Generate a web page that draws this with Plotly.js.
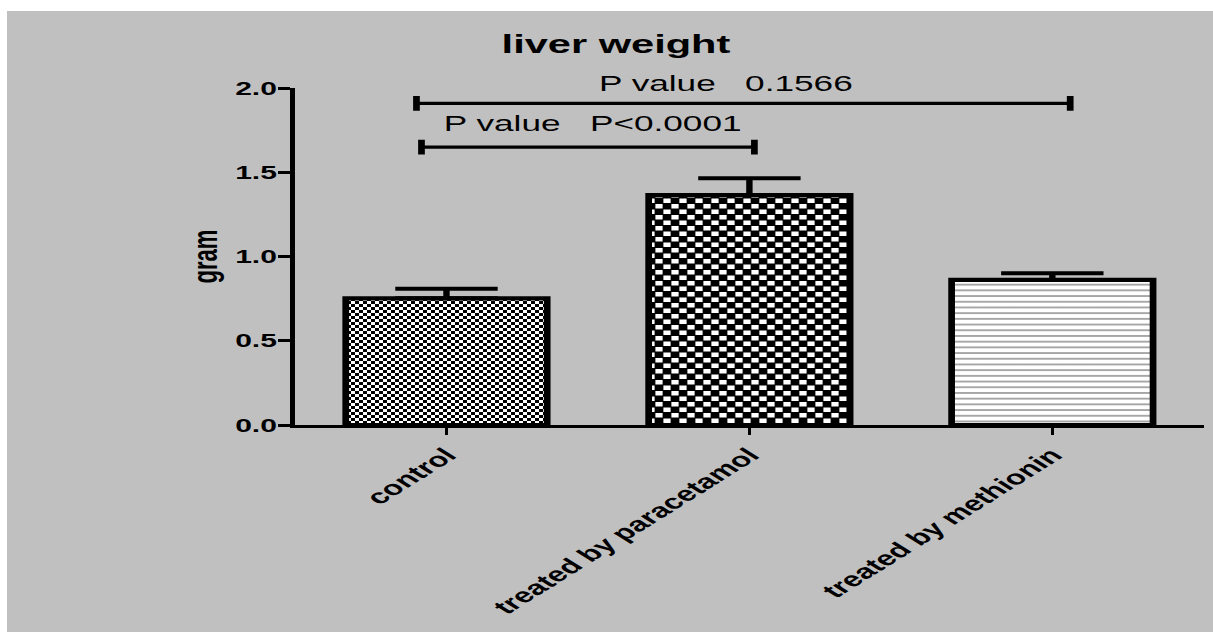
<!DOCTYPE html>
<html>
<head>
<meta charset="utf-8">
<script src="https://cdn.plot.ly/plotly-3.0.1.min.js"></script>
<style>
html, body { margin:0; padding:0; background:#ffffff; overflow:hidden; width:1213px; height:632px; }
#chart { position:absolute; left:7px; top:11px; width:754px; height:621px; transform:scaleX(1.6); transform-origin:0 0; }
</style>
</head>
<body>
<div id="chart"></div>
<script>
// ---- data ----
const categories = ['control', 'treated by paracetamol', 'treated by methionin'];
const meanWeight = [0.752, 1.365, 0.861];
const semWeight  = [0.056, 0.099, 0.040];
const yTickVals  = [0, 0.5, 1.0, 1.5, 2.0];
const yTickText  = ['0.0', '0.5', '1.0', '1.5', '2.0'];
const compFrom   = [0, 0];
const compTo     = [1, 2];
const pLabels    = ['P value\u00a0\u00a0\u00a0P<0.0001', 'P value\u00a0\u00a0\u00a00.1566'];

// ---- styling / geometry ----
const FONT = '"Liberation Sans", Arial, Helvetica, sans-serif';
const Y_MAX = 2.0;
const bracketY     = [1.649, 1.909];
const bracketLeft  = [-0.0825, -0.099];
const bracketRight = [0.0165, 0.059];
const labelX       = [0.48, 0.922];
const labelY       = [1.791, 2.028];
const capHalf = 0.044;

const trace = {
  type: 'bar',
  x: categories,
  y: meanWeight,
  width: 0.665,
  marker: {
    color: ['white', 'black', 'white'],
    line: { color: '#000', width: 4.2 },
    pattern: { shape: ['', '', '-'], fgcolor: 'black', bgcolor: 'white', size: 5.7, solidity: 0.32, fillmode: 'overlay' }
  },
  error_y: { type: 'data', symmetric: false, array: semWeight, arrayminus: semWeight.map(() => 0), color: '#000', thickness: 4, width: 32 },
  hoverinfo: 'skip'
};

const shapes = [];
const annotations = [];
for (let i = 0; i < compFrom.length; i++) {
  const xa = compFrom[i] + bracketLeft[i];
  const xb = compTo[i] + bracketRight[i];
  const y = bracketY[i];
  shapes.push({ type: 'line', xref: 'x', yref: 'y', x0: xa, x1: xb, y0: y, y1: y, line: { color: '#000', width: 3.3 } });
  shapes.push({ type: 'line', xref: 'x', yref: 'y', x0: xa, x1: xa, y0: y - capHalf, y1: y + capHalf, line: { color: '#000', width: 4.2 } });
  shapes.push({ type: 'line', xref: 'x', yref: 'y', x0: xb, x1: xb, y0: y - capHalf, y1: y + capHalf, line: { color: '#000', width: 4.2 } });
  annotations.push({ x: labelX[i], y: labelY[i] / Y_MAX, xref: 'x', yref: 'paper', text: pLabels[i], showarrow: false,
    xanchor: 'center', yanchor: 'middle', font: { family: FONT, size: 22, color: '#000' } });
}

const layout = {
  width: 754, height: 621,
  margin: { l: 180, r: 6, t: 76.7, b: 206.5, pad: 0 },
  paper_bgcolor: '#c0c0c0',
  plot_bgcolor: 'rgba(0,0,0,0)',
  showlegend: false,
  title: { text: 'liver weight', font: { family: FONT, size: 26, color: '#000', weight: 700 },
           x: 0.5048, xref: 'container', xanchor: 'center', y: 0.9465, yref: 'container', yanchor: 'middle' },
  xaxis: { type: 'category', range: [-0.5, 2.5], showline: true, linecolor: '#000', linewidth: 3,
           ticks: 'outside', ticklen: 7, tickwidth: 2, tickcolor: '#000', tickangle: -45,
           tickfont: { family: FONT, size: 20.5, color: '#000', weight: 700 },
           showgrid: false, zeroline: false, fixedrange: true },
  yaxis: { range: [0, Y_MAX], tickvals: yTickVals, ticktext: yTickText, showline: true, linecolor: '#000', linewidth: 3,
           ticks: 'outside', ticklen: 7.5, tickwidth: 3, tickcolor: '#000', ticklabelstandoff: -3,
           tickfont: { family: FONT, size: 18.8, color: '#000', weight: 700 },
           showgrid: false, zeroline: false, fixedrange: true,
           title: { text: 'gram', font: { family: FONT, size: 22, color: '#000', weight: 700 }, standoff: 5 } },
  shapes: shapes,
  annotations: annotations
};

Plotly.newPlot('chart', [trace], layout, { staticPlot: true, displayModeBar: false, responsive: false }).then(function (gd) {
  const ns = 'http://www.w3.org/2000/svg';
  const svg = gd.querySelector('svg.main-svg');
  let defs = svg.querySelector('defs');
  if (!defs) { defs = document.createElementNS(ns, 'defs'); svg.insertBefore(defs, svg.firstChild); }
  function mkPattern(id, w, h, bg, fg, rects) {
    const p = document.createElementNS(ns, 'pattern');
    p.setAttribute('id', id);
    p.setAttribute('patternUnits', 'userSpaceOnUse');
    p.setAttribute('width', w);
    p.setAttribute('height', h);
    const b = document.createElementNS(ns, 'rect');
    b.setAttribute('width', w); b.setAttribute('height', h); b.setAttribute('fill', bg);
    p.appendChild(b);
    rects.forEach(function (r) {
      const e = document.createElementNS(ns, 'rect');
      e.setAttribute('x', r[0]); e.setAttribute('y', r[1]);
      e.setAttribute('width', r[2]); e.setAttribute('height', r[3]);
      e.setAttribute('fill', fg);
      p.appendChild(e);
    });
    defs.appendChild(p);
  }
  mkPattern('chkFine', 5, 6, '#ffffff', '#000000', [[0, 0, 2.5, 3], [2.5, 3, 2.5, 3]]);
  mkPattern('chkCoarse', 10, 11, '#000000', '#ffffff', [[0.25, 0.5, 4.5, 4.5], [5.25, 6, 4.5, 4.5]]);
  const paths = gd.querySelectorAll('.barlayer .point path');
  if (paths.length >= 2) {
    paths[0].style.fill = 'url(#chkFine)';
    paths[1].style.fill = 'url(#chkCoarse)';
  }
});
</script>
</body>
</html>
